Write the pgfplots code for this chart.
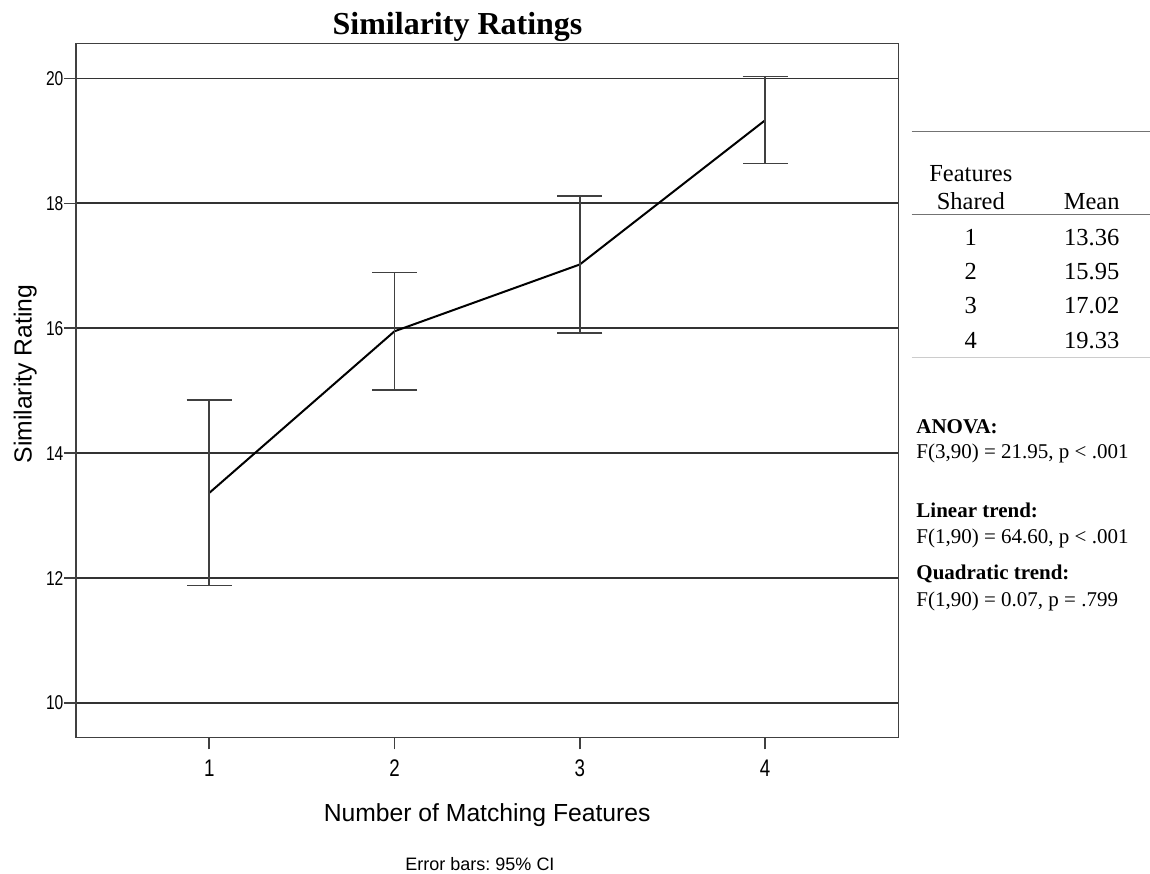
\documentclass[border=0pt]{standalone}
\usepackage{fontspec}
\setmainfont{Liberation Serif}
\newfontfamily\arial{Liberation Sans}
\newfontfamily\arialnarrow{Liberation Sans}[FakeStretch=0.78]
\usepackage{pgfplots}
\pgfplotsset{compat=1.18}
\frenchspacing

\begin{document}
\begin{tikzpicture}
\path[use as bounding box] (0,0) rectangle (575pt,436.5pt);

\begin{axis}[
    at={(37.9pt,67.85pt)}, anchor=south west,
    scale only axis, width=411.35pt, height=346.9pt,
    xmin=0.28, xmax=4.72, ymin=9.446, ymax=20.56,
    xtick={1,2,3,4}, ytick={10,12,...,20},
    tick pos=left, tick align=outside, major tick length=6pt,
    tick style={black!75, line width=0.8pt},
    axis line style={black!75, line width=0.8pt},
    ymajorgrids, major grid style={black!80, line width=0.85pt},
    /pgf/number format/assume math mode=true,
    xticklabel style={font=\arialnarrow\fontsize{12}{14}\selectfont, inner sep=0pt, text height=8.6pt, yshift=-4.8pt},
    yticklabel style={font=\arialnarrow\fontsize{10}{12}\selectfont, inner sep=0pt, text height=7.2pt},
    xlabel={Number of Matching Features},
    xlabel style={font=\arial\fontsize{12.35}{14}\selectfont, at={(axis description cs:0.5,-0.1217)}, anchor=base, inner sep=0pt},
    ylabel={Similarity Rating},
    ylabel style={font=\arial\fontsize{12.35}{14}\selectfont, at={(axis description cs:-0.0538,0.5236)}, anchor=base, rotate=0, inner sep=0pt},
    clip=false,
]
% means with asymmetric 95% CI
\addplot[black, line width=1pt,
    error bars/.cd, y dir=both, y explicit,
    error bar style={black!75, line width=0.75pt},
    error mark options={rotate=90, black!75, line width=0.75pt, mark size=11.25pt}]
  coordinates {
    (1,13.36) += (0,1.49) -= (0,1.48)
    (2,15.95) += (0,0.94) -= (0,0.94)
    (3,17.02) += (0,1.10) -= (0,1.10)
    (4,19.33) += (0,0.70) -= (0,0.69)
  };
\node[font=\bfseries\fontsize{16}{19}\selectfont, anchor=base, inner sep=0pt]
  at (axis description cs:0.464,1.013) {Similarity Ratings};
\node[font=\arial\fontsize{9}{11}\selectfont, anchor=base, inner sep=0pt]
  at (axis description cs:0.4913,-0.1913) {Error bars: 95\% CI};
\end{axis}

% side table and statistics, pixel coordinates from the top left
\begin{scope}[shift={(0pt,436.5pt)}, x=0.5pt, y=-0.5pt]
  \draw[black!55, line width=0.5pt] (911.7,131.7) -- (1150,131.7);
  \draw[black!55, line width=0.5pt] (911.7,215) -- (1150,215);
  \draw[black!20, line width=0.6pt] (911.7,357.3) -- (1150,357.3);
  \begin{scope}[every node/.style={font=\fontsize{12.25}{14}\selectfont, anchor=base, inner sep=0pt}]
    \node at (970.8,181.7) {Features};
    \node at (970.8,210) {Shared};
    \node at (1091.7,210) {Mean};
    \node at (970.8,246) {1};   \node at (1091.7,246) {13.36};
    \node at (970.8,279.8) {2}; \node at (1091.7,279.8) {15.95};
    \node at (970.8,314) {3};   \node at (1091.7,314) {17.02};
    \node at (970.8,348.3) {4}; \node at (1091.7,348.3) {19.33};
  \end{scope}
  \begin{scope}[every node/.style={font=\fontsize{10.5}{12}\selectfont, anchor=base west, inner sep=0pt}]
    \node at (916,433.3) {\bfseries ANOVA:};
    \node at (916,458.3) {F(3,90) = 21.95, p < .001};
    \node at (916,517.3) {\bfseries Linear trend:};
    \node at (916,543.3) {F(1,90) = 64.60, p < .001};
    \node at (916,580) {\bfseries Quadratic trend:};
    \node at (916,606.7) {F(1,90) = 0.07, p = .799};
  \end{scope}
\end{scope}
\end{tikzpicture}
\end{document}
